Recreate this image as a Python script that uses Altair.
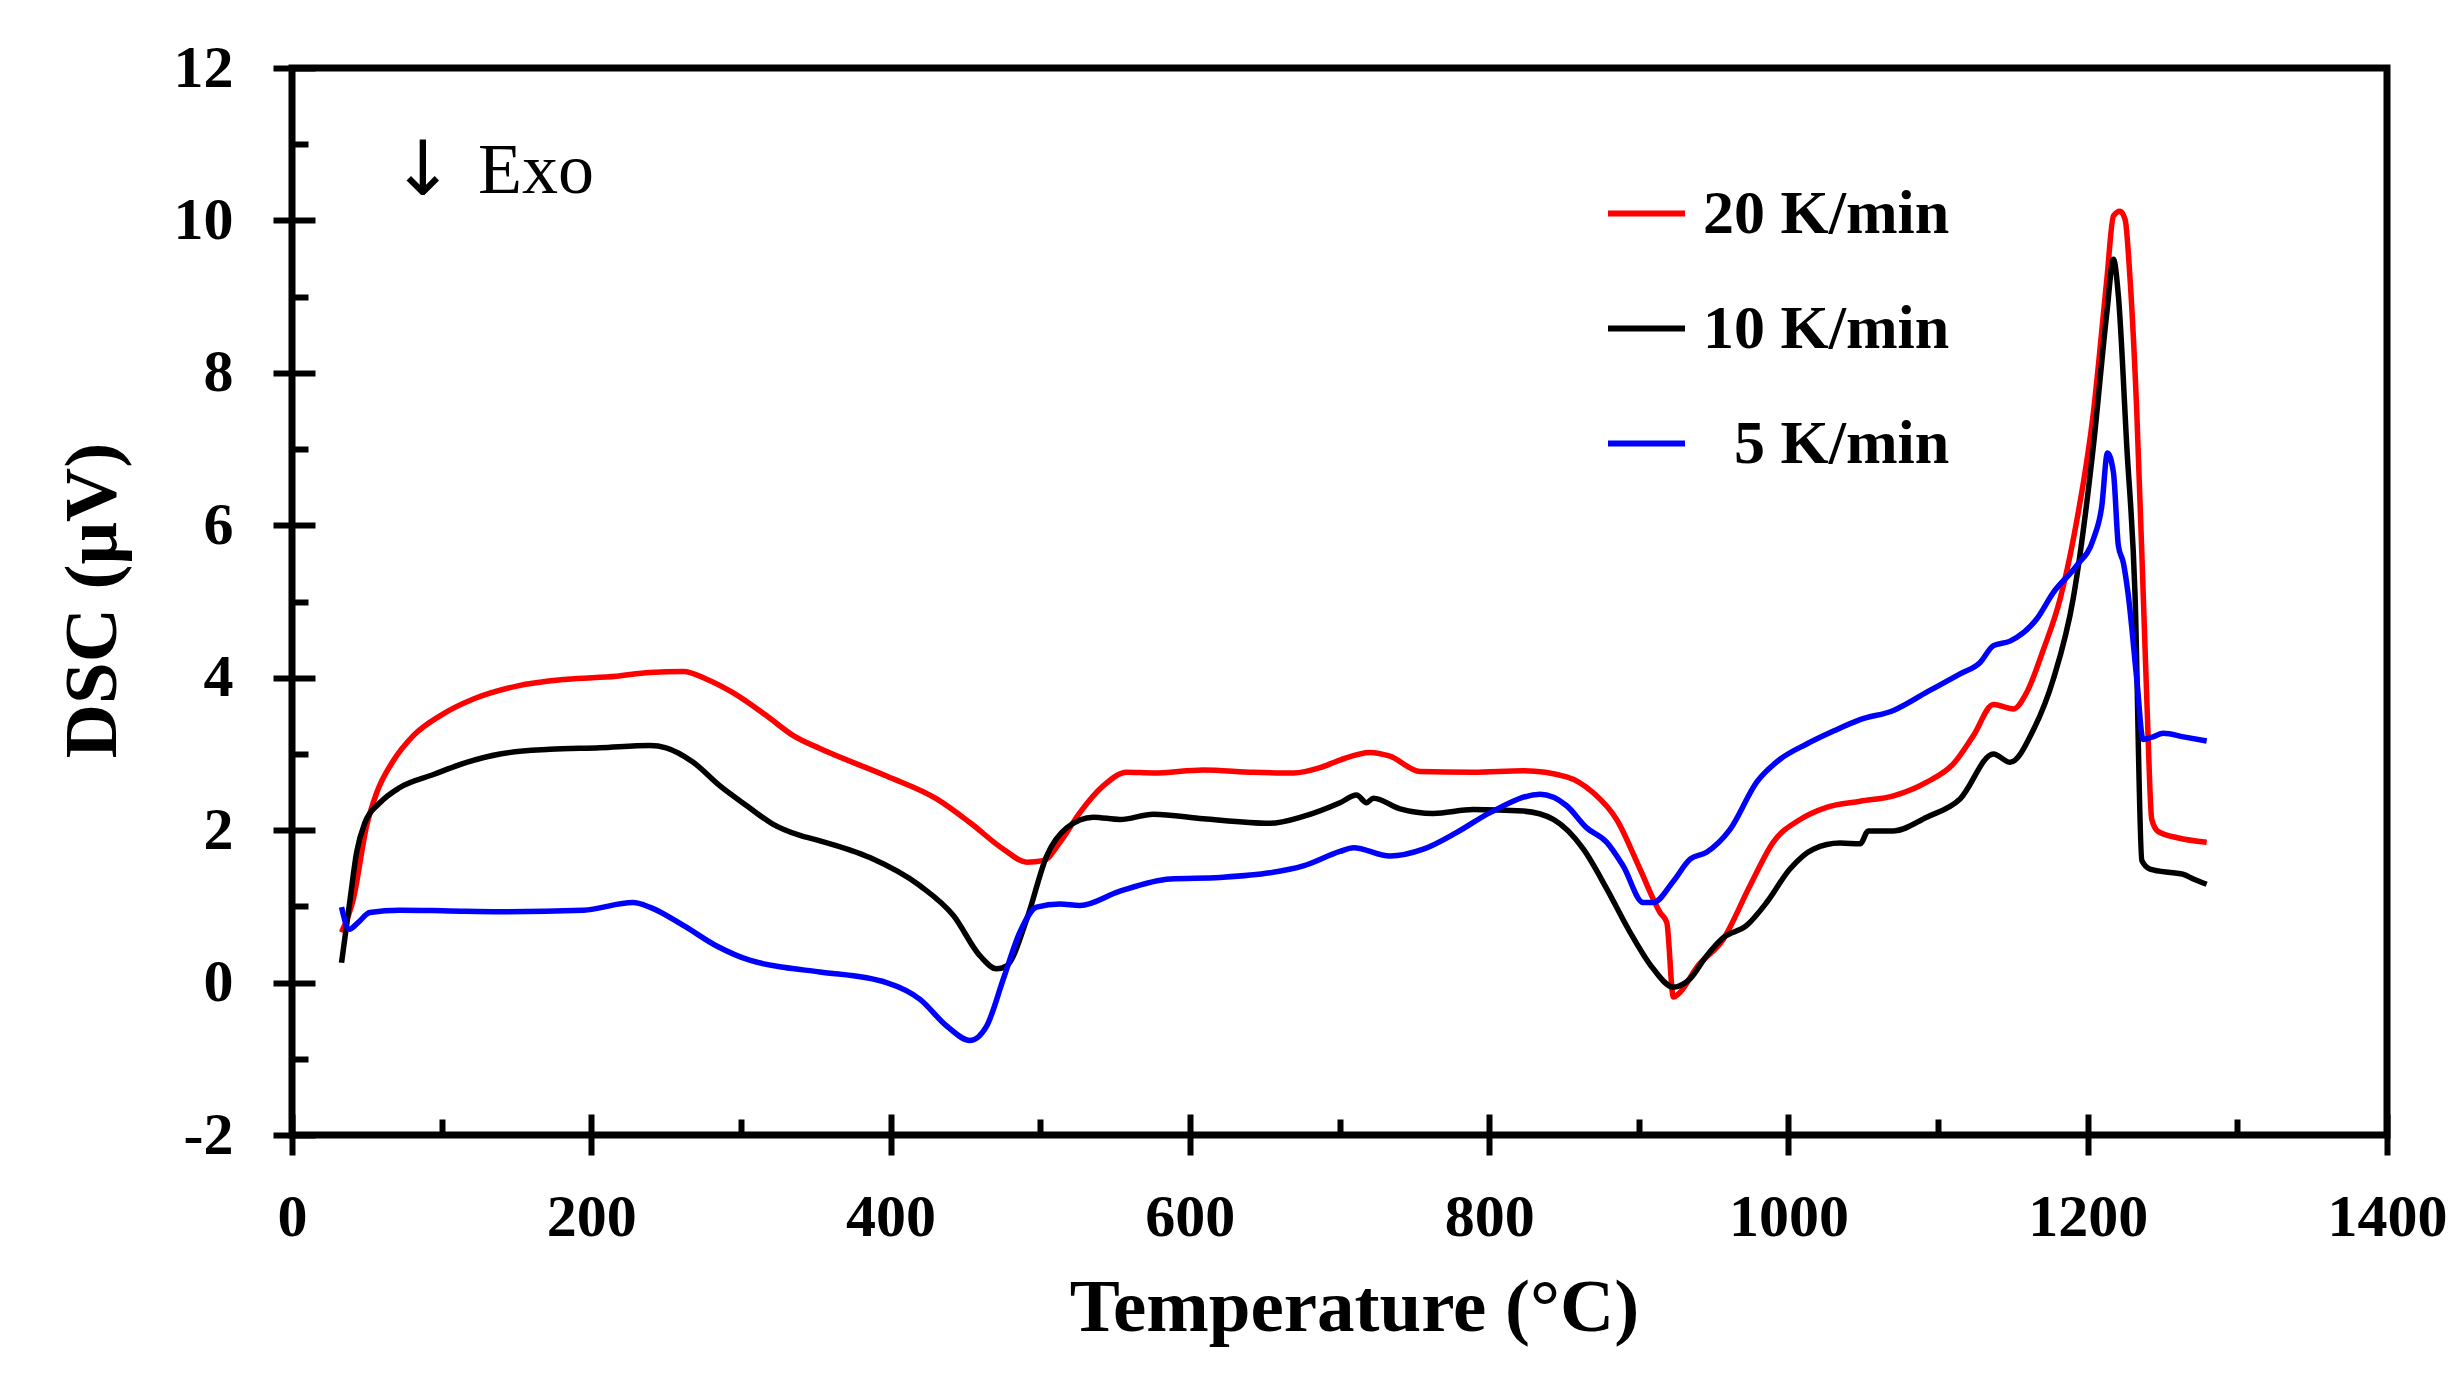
import altair as alt
import pandas as pd

# ---- data ----
T_20 = [33.1, 40.9, 49.9, 56.6, 67.7, 81.1, 98.9, 121.2, 150.2, 183.5, 216.8, 239.0, 261.5, 277.1,
        294.9, 317.2, 335.0, 352.8, 397.3, 430.8, 453.0, 475.4, 491.0, 502.1, 513.2, 526.5, 542.1,
        557.8, 575.6, 609.0, 642.4, 669.2, 687.0, 700.3, 720.4, 733.7, 753.8, 789.4, 822.9, 851.8,
        869.6, 885.2, 900.8, 914.2, 918.7, 923.1, 927.5, 938.7, 956.5, 974.3, 989.8, 1007.8, 1025.5,
        1047.9, 1070.2, 1092.4, 1110.2, 1123.6, 1137.0, 1150.3, 1159.3, 1170.4, 1181.5, 1190.4,
        1203.8, 1212.8, 1217.2, 1221.6, 1225.0, 1228.3, 1232.8, 1237.2, 1239.8, 1242.8, 1247.2,
        1260.0, 1279.5]
V_20 = [0.66, 1.09, 2.06, 2.49, 2.91, 3.24, 3.50, 3.72, 3.89, 3.98, 4.02, 4.07, 4.08, 3.98,
        3.80, 3.50, 3.24, 3.07, 2.71, 2.41, 2.10, 1.75, 1.58, 1.60, 1.84, 2.23, 2.58,
        2.76, 2.75, 2.79, 2.76, 2.75, 2.82, 2.92, 3.02, 2.97, 2.77, 2.76, 2.78, 2.70,
        2.49, 2.14, 1.49, 0.92, 0.79, -0.19, -0.13, 0.20, 0.57, 1.27, 1.84, 2.14, 2.30,
        2.38, 2.45, 2.63, 2.87, 3.24, 3.65, 3.59, 3.81, 4.37, 5.03, 5.82,
        7.48, 9.23, 10.06, 10.12, 10.01, 9.23, 7.48, 5.03, 3.54, 2.14, 1.98,
        1.90, 1.84]

T_10 = [33.1, 38.8, 43.2, 48.8, 58.8, 72.1, 94.5, 116.7, 139.0, 172.4, 205.7, 239.2, 250.0, 268.1,
        286.0, 303.9, 321.3, 339.5, 352.8, 386.2, 419.7, 442.0, 459.8, 470.8, 477.6, 491.0, 504.3,
        517.7, 535.5, 553.3, 575.6, 609.0, 653.5, 675.8, 700.3, 711.4, 718.1, 722.7, 740.5, 762.7,
        789.4, 822.9, 842.9, 863.0, 878.6, 894.2, 909.7, 923.1, 934.3, 945.3, 956.5, 972.1, 985.4,
        1001.0, 1016.6, 1034.5, 1047.9, 1053.4, 1070.2, 1092.4, 1114.7, 1137.0, 1148.1, 1163.8,
        1177.0, 1190.4, 1203.8, 1212.8, 1217.2, 1220.5, 1226.1, 1231.6, 1236.2, 1241.6, 1257.3,
        1264.0, 1270.6, 1279.5]
V_10 = [0.26, 1.09, 1.71, 2.10, 2.36, 2.56, 2.73, 2.89, 3.00, 3.06, 3.08, 3.11, 3.08, 2.89,
        2.58, 2.32, 2.08, 1.93, 1.86, 1.64, 1.27, 0.88, 0.35, 0.18, 0.22, 0.83, 1.66,
        2.03, 2.17, 2.14, 2.21, 2.15, 2.09, 2.18, 2.36, 2.46, 2.36, 2.42, 2.28, 2.22,
        2.27, 2.25, 2.14, 1.75, 1.23, 0.66, 0.18, -0.06, 0.05, 0.35, 0.59, 0.75, 1.05,
        1.49, 1.75, 1.83, 1.82, 1.99, 1.99, 2.17, 2.41, 3.00, 2.89, 3.32,
        3.98, 5.05, 7.04, 8.79, 9.49, 9.01, 7.04, 5.10, 1.60, 1.49, 1.44,
        1.42, 1.36, 1.29]

T_5 = [33.1, 38.3, 44.3, 52.0, 72.0, 105.2, 139.0, 194.7, 227.9, 239.0, 261.5, 283.8, 306.3, 328.4,
       352.8, 397.3, 419.7, 437.5, 453.0, 464.2, 475.4, 486.4, 497.6, 513.2, 526.5, 553.3, 586.8,
       620.1, 653.5, 675.8, 700.3, 709.3, 733.7, 756.0, 778.4, 800.6, 834.1, 851.8, 865.2, 878.6,
       889.6, 903.0, 909.7, 923.1, 934.3, 945.3, 961.0, 978.8, 994.4, 1012.2, 1030.1, 1047.9,
       1070.2, 1092.4, 1114.7, 1128.1, 1137.0, 1148.1, 1165.9, 1177.1, 1192.6, 1203.8, 1209.4,
       1213.2, 1217.2, 1220.5, 1223.8, 1227.0, 1232.8, 1237.0, 1243.0, 1250.5, 1265.0, 1279.5]
V_5 = [0.99, 0.70, 0.79, 0.92, 0.95, 0.94, 0.93, 0.95, 1.05, 0.99, 0.75, 0.48, 0.29, 0.20,
       0.14, 0.00, -0.22, -0.57, -0.76, -0.57, 0.05, 0.66, 0.99, 1.03, 1.01, 1.20, 1.36,
       1.38, 1.44, 1.53, 1.72, 1.77, 1.66, 1.75, 1.97, 2.23, 2.47, 2.32, 2.03, 1.84,
       1.53, 1.05, 1.05, 1.33, 1.62, 1.71, 2.01, 2.63, 2.93, 3.13, 3.30, 3.45,
       3.57, 3.81, 4.05, 4.20, 4.42, 4.48, 4.77, 5.12, 5.47, 5.82, 6.25,
       6.95, 6.69, 5.73, 5.51, 5.10, 3.98, 3.19, 3.22, 3.27, 3.22, 3.17]

# legend labels (the 5 K/min label is padded by one figure space, as in the source;
# a zero-width space in front keeps the padding from being trimmed)
SERIES = ["20 K/min", "10 K/min", "\u200b\u20075 K/min"]
COLORS = ["#ff0000", "#000000", "#0000ff"]

X_MAJOR = [0, 200, 400, 600, 800, 1000, 1200, 1400]
X_MINOR = [100, 300, 500, 700, 900, 1100, 1300]
Y_MAJOR = [-2, 0, 2, 4, 6, 8, 10, 12]
Y_MINOR = [-1, 1, 3, 5, 7, 9, 11]

rows = []
for name, ts, vs in [(SERIES[0], T_20, V_20), (SERIES[1], T_10, V_10), (SERIES[2], T_5, V_5)]:
    for t, v in zip(ts, vs):
        rows.append({"T": t, "DSC": v, "rate": name})
df = pd.DataFrame(rows)

ann_arrow = pd.DataFrame({"T": [87.5], "DSC": [10.33], "txt": ["\u2193"]})
ann_exo = pd.DataFrame({"T": [124.3], "DSC": [10.36], "txt": ["Exo"]})

FONT = "Liberation Serif"
xs = alt.Scale(domain=[0, 1400], nice=False, zero=False)
ys = alt.Scale(domain=[-2, 12], nice=False, zero=False)

lines = alt.Chart(df).mark_line(strokeWidth=5.5, interpolate="monotone", strokeJoin="round").encode(
    x=alt.X("T:Q", scale=xs, axis=alt.Axis(
        orient="bottom", values=X_MAJOR, offset=-21, tickSize=41, labelPadding=33,
        labelFlush=False, labelOverlap=False,
        labelFont=FONT, labelFontWeight="bold", labelFontSize=60, labelColor="black",
        title="Temperature (\u00b0C)", titleFont=FONT, titleFontWeight="bold", titleFontSize=75,
        titleColor="black", titleX=1062, titleY=216, titleAlign="center", titleBaseline="alphabetic",
        labelExpr="datum.value + ''")),
    y=alt.Y("DSC:Q", scale=ys, axis=alt.Axis(
        orient="left", values=Y_MAJOR, offset=-23, tickSize=42, labelPadding=40,
        labelFlush=False, labelOverlap=False,
        labelFont=FONT, labelFontWeight="bold", labelFontSize=60, labelColor="black",
        title="DSC (\u03bcV)", titleFont=FONT, titleFontWeight="bold", titleFontSize=75,
        titleColor="black", titleX=-200, titleY=532, titleAngle=270, titleAlign="center",
        titleBaseline="alphabetic", labelExpr="datum.value + ''")),
    color=alt.Color("rate:N", scale=alt.Scale(domain=SERIES, range=COLORS), legend=alt.Legend(
        orient="none", legendX=1313, legendY=104, title=None, symbolType="stroke",
        symbolSize=5929, symbolStrokeWidth=6, labelFont=FONT, labelFontWeight="bold",
        labelFontSize=62, labelColor="black", labelOffset=15, rowPadding=42, padding=0,
        labelLimit=600)),
    detail="rate:N",
)

minor = alt.Chart(df).mark_line(opacity=0).encode(
    x=alt.X("T:Q", scale=xs, axis=alt.Axis(
        orient="bottom", values=X_MINOR, offset=-16, tickSize=16, labels=False, title=None)),
    y=alt.Y("DSC:Q", scale=ys, axis=alt.Axis(
        orient="left", values=Y_MINOR, offset=-16, tickSize=16, labels=False, title=None)),
    detail="rate:N",
)

arrow = alt.Chart(ann_arrow).mark_text(font="DejaVu Sans", fontSize=76, align="center",
                                       baseline="alphabetic", color="black").encode(
    x=alt.X("T:Q", scale=xs, axis=None), y=alt.Y("DSC:Q", scale=ys, axis=None), text="txt:N")

exo = alt.Chart(ann_exo).mark_text(font=FONT, fontSize=72, align="left",
                                   baseline="alphabetic", color="black").encode(
    x=alt.X("T:Q", scale=xs, axis=None), y=alt.Y("DSC:Q", scale=ys, axis=None), text="txt:N")

chart = alt.layer(lines, minor, arrow, exo).resolve_scale(
    x="shared", y="shared"
).resolve_axis(
    x="independent", y="independent"
).properties(
    width=2095, height=1067,
    autosize=alt.AutoSizeParams(type="none"),
    padding={"left": 284, "top": 60, "right": 66, "bottom": 230},
).configure_view(
    stroke="black", strokeWidth=7
).configure_axis(
    grid=False, domain=False, tickColor="black", tickWidth=6
)

chart.save("out.html", embed_options={"renderer": "svg", "actions": False})
